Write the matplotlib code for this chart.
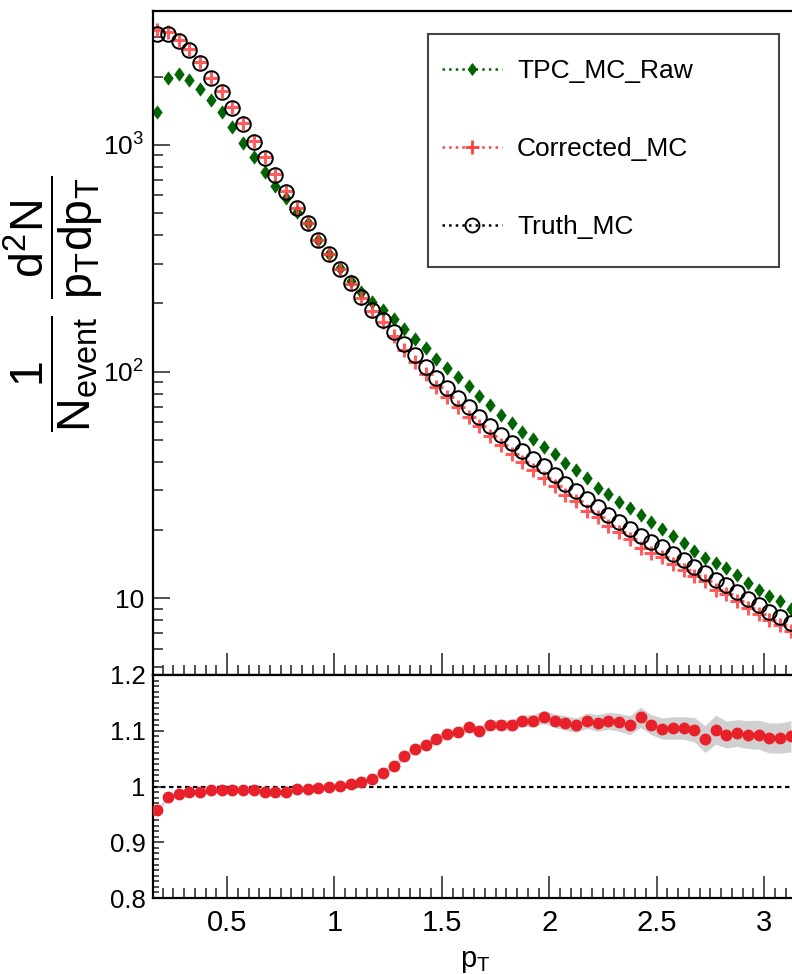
import matplotlib
matplotlib.use('Agg')
import matplotlib.pyplot as plt
import numpy as np
from matplotlib.lines import Line2D
from matplotlib.path import Path
from matplotlib.patches import Rectangle
from matplotlib.ticker import FixedLocator, FuncFormatter, MultipleLocator, LogLocator, NullFormatter

plt.rcParams['font.family'] = ['Liberation Sans', 'DejaVu Sans']
plt.rcParams['mathtext.fontset'] = 'custom'
plt.rcParams['mathtext.rm'] = 'Liberation Sans'
plt.rcParams['mathtext.it'] = 'Liberation Sans'
plt.rcParams['mathtext.bf'] = 'Liberation Sans'
plt.rcParams['mathtext.default'] = 'regular'

# pT bin centres
pt = [0.175, 0.225, 0.275, 0.325, 0.375, 0.425, 0.475, 0.525, 0.575, 0.625,
      0.675, 0.725, 0.775, 0.825, 0.875, 0.925, 0.975, 1.025, 1.075, 1.125,
      1.175, 1.225, 1.275, 1.325, 1.375, 1.425, 1.475, 1.525, 1.575, 1.625,
      1.675, 1.725, 1.775, 1.825, 1.875, 1.925, 1.975, 2.025, 2.075, 2.125,
      2.175, 2.225, 2.275, 2.325, 2.375, 2.425, 2.475, 2.525, 2.575, 2.625,
      2.675, 2.725, 2.775, 2.825, 2.875, 2.925, 2.975, 3.025, 3.075, 3.125]

tpc_mc_raw = [1400, 1970, 2050, 1940, 1760, 1580, 1400, 1205, 1025, 888,
              762, 659, 582, 508, 451, 381, 332, 287, 252, 225,
              203, 188, 170, 154, 140, 127, 114, 104, 95.1, 86.3,
              78.4, 71.3, 64.6, 59.4, 54.4, 50.3, 46.6, 43.4, 39.7, 36.8,
              33.8, 30.8, 29.0, 26.7, 25.1, 23.3, 21.8, 20.3, 18.8, 17.5,
              16.1, 15.1, 14.3, 13.6, 12.7, 11.7, 10.9, 10.2, 9.7, 9.0]

corrected_mc = [3229, 3140, 2918, 2646, 2333, 1984, 1732, 1470, 1244, 1042,
                889, 745, 628, 529, 453, 382, 330, 283, 244, 212,
                185, 165, 144, 125, 110.5, 97.8, 86.0, 77.6, 69.9, 62.9,
                57.5, 51.8, 47.3, 43.5, 39.9, 36.9, 34.0, 31.3, 28.7, 26.8,
                24.4, 22.8, 20.8, 19.6, 18.3, 16.7, 15.9, 15.2, 14.2, 13.3,
                12.5, 11.9, 10.9, 10.4, 9.76, 9.06, 8.51, 8.00, 7.64, 7.16]

truth_mc = [3090, 3080, 2880, 2620, 2310, 1970, 1720, 1460, 1235, 1035,
            880, 738, 622, 526, 451, 381, 330, 283, 245, 214,
            188, 169, 149, 132, 118, 105, 93.4, 84.9, 76.7, 69.6,
            63.2, 57.5, 52.5, 48.3, 44.6, 41.2, 38.2, 35.0, 32.0, 29.8,
            27.3, 25.4, 23.3, 21.8, 20.3, 18.8, 17.7, 16.8, 15.7, 14.7,
            13.8, 12.9, 12.0, 11.4, 10.7, 9.9, 9.3, 8.7, 8.3, 7.8]

ratio = [0.957, 0.981, 0.987, 0.990, 0.990, 0.993, 0.993, 0.993, 0.993, 0.993,
         0.990, 0.991, 0.991, 0.995, 0.995, 0.998, 0.999, 1.001, 1.004, 1.008,
         1.014, 1.025, 1.037, 1.054, 1.068, 1.074, 1.086, 1.094, 1.098, 1.107,
         1.100, 1.111, 1.111, 1.110, 1.118, 1.118, 1.125, 1.118, 1.114, 1.110,
         1.118, 1.114, 1.118, 1.115, 1.110, 1.124, 1.111, 1.104, 1.105, 1.105,
         1.102, 1.085, 1.102, 1.093, 1.096, 1.093, 1.093, 1.087, 1.087, 1.090]

ratio_err = [0.004, 0.003, 0.003, 0.003, 0.003, 0.003, 0.003, 0.003, 0.003, 0.003,
             0.003, 0.003, 0.003, 0.003, 0.003, 0.004, 0.004, 0.004, 0.004, 0.004,
             0.005, 0.005, 0.005, 0.006, 0.006, 0.006, 0.007, 0.007, 0.007, 0.008,
             0.008, 0.009, 0.009, 0.010, 0.010, 0.011, 0.012, 0.012, 0.013, 0.013,
             0.014, 0.015, 0.015, 0.016, 0.017, 0.018, 0.018, 0.019, 0.020, 0.020,
             0.022, 0.024, 0.026, 0.024, 0.024, 0.025, 0.026, 0.027, 0.027, 0.028]

labels = ['TPC_MC_Raw', 'Corrected_MC', 'Truth_MC']

W, H = 792, 974
fig = plt.figure(figsize=(W / 100, H / 100), dpi=100)
left = 152.5 / W
ax1 = fig.add_axes([left, 1 - 675 / H, 1 - left, (675 - 11) / H])
ax2 = fig.add_axes([left, 1 - 898 / H, 1 - left, (898 - 675) / H], sharex=ax1)

green = '#006400'
red_cross = '#ff4040'
red_dot = '#e8202a'

diamond = Path([(0, 1), (0.72, 0), (0, -1), (-0.72, 0), (0, 1)],
               [Path.MOVETO, Path.LINETO, Path.LINETO, Path.LINETO, Path.CLOSEPOLY])

ax1.plot(pt, tpc_mc_raw, ls='none', marker=diamond, ms=9.5, color=green, mec=green, mew=0.5)
ax1.plot(pt, corrected_mc, ls='none', marker='+', ms=10, mew=2.2, color=red_cross, alpha=0.85)
ax1.plot(pt, truth_mc, ls='none', marker='o', ms=10.5, mfc='none', mec='black', mew=1.4)

ax1.set_yscale('log')
ax1.set_ylim(4.59, 3900)
ax1.set_xlim(0.153, 3.130)
ax1.yaxis.set_major_locator(FixedLocator([10, 100, 1000]))
ax1.yaxis.set_minor_locator(LogLocator(base=10, subs=range(2, 10)))
ax1.yaxis.set_minor_formatter(NullFormatter())

def logfmt(v, pos):
    if abs(v - 10) < 1e-6:
        return '10'
    return r'$10^{%d}$' % int(round(np.log10(v)))

ax1.yaxis.set_major_formatter(FuncFormatter(logfmt))

for ax in (ax1, ax2):
    ax.xaxis.set_major_locator(MultipleLocator(0.5))
    ax.xaxis.set_minor_locator(MultipleLocator(0.05))
    ax.tick_params(which='both', direction='in', top=False, right=False, color='#333333', width=1.2)
    ax.tick_params(axis='x', which='major', length=16)
    ax.tick_params(axis='x', which='minor', length=7.5)
    ax.spines['right'].set_visible(False)
    for s in ('left', 'bottom', 'top'):
        ax.spines[s].set_linewidth(1.6)

ax1.tick_params(axis='y', which='major', length=12, labelsize=19, pad=6)
ax1.tick_params(axis='y', which='minor', length=7)
ax1.tick_params(axis='x', labelbottom=False)

ax2.fill_between(pt, np.array(ratio) - np.array(ratio_err), np.array(ratio) + np.array(ratio_err),
                 color='#d0d0d0', lw=0, zorder=1)
ax2.axhline(1.0, color='black', ls=(0, (2, 1.6)), lw=1.6, zorder=2)
ax2.plot(pt, ratio, ls='none', marker='o', ms=7.5, color=red_dot, mec=red_dot, zorder=3)
ax2.set_ylim(0.8, 1.2)
ax2.set_yticks([0.8, 0.9, 1.0, 1.1, 1.2])
ax2.set_yticklabels(['0.8', '0.9', '1', '1.1', '1.2'])
ax2.yaxis.set_minor_locator(MultipleLocator(0.01))
ax2.tick_params(axis='y', which='major', length=8, labelsize=18.5, pad=5)
ax2.tick_params(axis='y', which='minor', length=4)
ax2.tick_params(axis='x', labelsize=21, pad=8)
ax2.set_xticks([0.5, 1.0, 1.5, 2.0, 2.5, 3.0])
ax2.set_xticklabels(['0.5', '1', '1.5', '2', '2.5', '3'])
ax2.set_xlabel(r'$p_{T}$', fontsize=21)
ax2.xaxis.set_label_coords((475 - 152.5) / (W - 152.5), -0.22)

fig.text(53 / W, 1 - 304 / H, r'$\dfrac{1}{N_{event}}\ \dfrac{d^{2}N}{p_{T}dp_{T}}$',
         rotation=90, ha='center', va='center', fontsize=33.5)

# legend frame (drawn separately so that padding can be matched)
aw = W - 152.5
ah = 664.0
def ax_x(px):
    return (px - 152.5) / aw
def ax_y(py):
    return 1 - (py - 11) / ah

frame = Rectangle((ax_x(428), ax_y(267)), ax_x(779) - ax_x(428), ax_y(34) - ax_y(267),
                  transform=ax1.transAxes, facecolor='white', edgecolor='#444444',
                  lw=1.5, zorder=4.5)
ax1.add_patch(frame)

handles = [
    Line2D([], [], ls=':', lw=1.8, color=green, marker=diamond, ms=8, mec=green),
    Line2D([], [], ls=':', lw=1.8, color=red_cross, marker='+', ms=10, mew=2),
    Line2D([], [], ls=':', lw=1.8, color='black', marker='o', ms=10, mfc='none', mew=1.4),
]
leg = ax1.legend(handles, labels, loc='upper left', bbox_to_anchor=(ax_x(442), ax_y(59)),
                 borderaxespad=0, borderpad=0, fontsize=19, frameon=False,
                 handlelength=2.27, handletextpad=0.57, labelspacing=2.05)
leg.set_zorder(6)

fig.savefig('out.png', dpi=100)
